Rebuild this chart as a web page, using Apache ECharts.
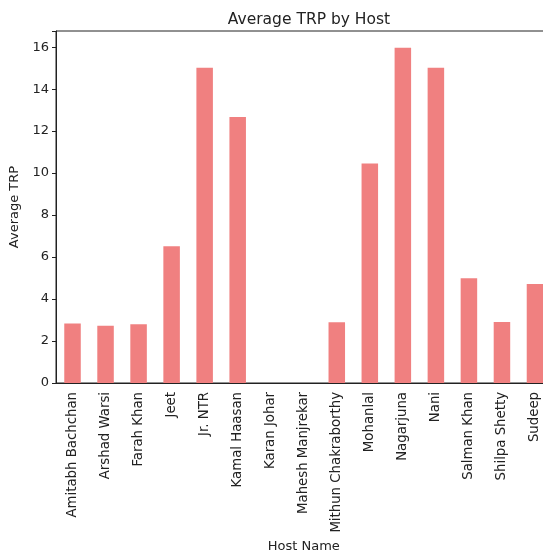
<!DOCTYPE html>
<html><head><meta charset="utf-8">
<script src="https://cdn.jsdelivr.net/npm/echarts@6/dist/echarts.min.js"></script>
<style>html,body{margin:0;padding:0;background:#fff}#c{width:543px;height:552px}</style>
</head><body><div id="c"></div>
<script>
const hosts = ["Amitabh Bachchan","Arshad Warsi","Farah Khan","Jeet","Jr. NTR","Kamal Haasan","Karan Johar","Mahesh Manjrekar","Mithun Chakraborthy","Mohanlal","Nagarjuna","Nani","Salman Khan","Shilpa Shetty","Sudeep"];
const avgTRP = [2.83, 2.73, 2.8, 6.51, 15.02, 12.67, 0, 0, 2.9, 10.46, 15.97, 15.02, 4.99, 2.91, 4.72];
const yTicks = [0, 2, 4, 6, 8, 10, 12, 14, 16];

const chart = echarts.init(document.getElementById('c'), null, {renderer: 'canvas'});
const font = 'DejaVu Sans';
chart.setOption({
  animation: false,
  backgroundColor: '#fff',
  title: {
    text: 'Average TRP by Host', left: 304, top: 7, textAlign: 'center',
    textStyle: {fontFamily: font, fontSize: 15.5, fontWeight: 'normal', color: '#222'}
  },
  grid: {left: 56, top: 31, width: 495.5, height: 352, show: true, borderColor: '#222', borderWidth: 1,
    backgroundColor: 'transparent', outerBoundsMode: 'none', containLabel: false},
  xAxis: {
    type: 'category', data: hosts,
    name: 'Host Name', nameLocation: 'middle', nameGap: 152,
    nameTextStyle: {fontFamily: font, fontSize: 13, color: '#222'},
    axisLine: {lineStyle: {color: '#222', width: 1}},
    axisTick: {alignWithLabel: true, length: 4, lineStyle: {color: '#222'}},
    axisLabel: {rotate: 90, interval: 0, fontFamily: font, fontSize: 13.3, color: '#222', margin: 9},
    splitLine: {show: false}
  },
  yAxis: {
    type: 'value', min: 0, max: 16.77, interval: 2,
    name: 'Average TRP', nameLocation: 'middle', nameGap: 31,
    nameTextStyle: {fontFamily: font, fontSize: 13, color: '#222'},
    axisLine: {show: true, lineStyle: {color: '#222', width: 1}},
    axisTick: {show: true, length: 4, lineStyle: {color: '#222'}},
    axisLabel: {fontFamily: font, fontSize: 13, color: '#222', margin: 7,
      formatter: v => yTicks.includes(v) ? String(v) : ''},
    splitLine: {show: false}
  },
  series: [{
    type: 'bar', data: avgTRP, barWidth: '50%',
    itemStyle: {color: '#F08080'}
  }]
});
</script></body></html>
